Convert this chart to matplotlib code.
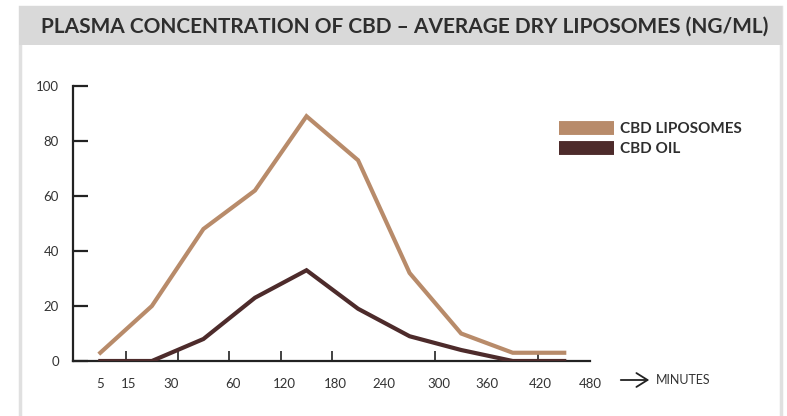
import matplotlib.pyplot as plt
from matplotlib.patches import Rectangle

# Données (ng/ml) aux 10 instants de prélèvement
liposomes = [3, 20, 48, 62, 89, 73, 32, 10, 3, 3]
oil = [0, 0, 8, 23, 33, 19, 9, 4, 0, 0]
minute_labels = ['5', '15', '30', '60', '120', '180', '240', '300', '360', '420', '480']
y_ticks = [0, 20, 40, 60, 80, 100]

lipo_color = '#b88b6a'
oil_color = '#4d2b2b'
axis_color = '#222222'

plt.rcParams['font.family'] = ['Lato', 'DejaVu Sans']

fig = plt.figure(figsize=(7.87, 4.16), dpi=100)

# cadre gris + bandeau du titre
fig.patches.append(Rectangle((20 / 787, -0.05), 761 / 787, 1.05 - 7 / 416, transform=fig.transFigure,
                             facecolor='white', edgecolor='#e0e0e0', lw=2.5, zorder=-2))
fig.patches.append(Rectangle((19 / 787, 1 - 45 / 416), 763 / 787, 39 / 416, transform=fig.transFigure,
                             facecolor='#d9d9d9', edgecolor='none', zorder=-1))
fig.text(405 / 787, 1 - 27 / 416, 'PLASMA CONCENTRATION OF CBD – AVERAGE DRY LIPOSOMES (NG/ML)',
         ha='center', va='center', fontsize=15.0, fontweight='bold', color='#2e2e2e')

ax = fig.add_axes([73 / 787, 55 / 416, 517 / 787, 275 / 416])
ax.set_facecolor('none')
x = list(range(len(liposomes)))
ax.plot(x, liposomes, color=lipo_color, lw=3, solid_joinstyle='miter', label='CBD LIPOSOMES', zorder=3)
ax.plot(x, oil, color=oil_color, lw=3, solid_joinstyle='miter', label='CBD OIL', zorder=4)

ax.set_xlim(-0.53, 9.5)
ax.set_ylim(0, 100)

for s in ['top', 'right']:
    ax.spines[s].set_visible(False)
for s in ['left', 'bottom']:
    ax.spines[s].set_color(axis_color)
    ax.spines[s].set_linewidth(1.6)

ax.set_yticks(y_ticks)
ax.set_yticklabels([str(v) for v in y_ticks])
ax.tick_params(axis='y', direction='in', length=11, width=1.6, color=axis_color,
               labelsize=9.5, labelcolor='#333333', pad=10)

# graduations de l'axe x entre les points, étiquettes placées à part
ax.set_xticks([i + 0.5 for i in range(10)], minor=True)
ax.tick_params(axis='x', which='minor', direction='in', length=7, width=1.2, color=axis_color)
ax.set_xticks([0, 0.55, 1.38, 2.57, 3.57, 4.56, 5.5, 6.56, 7.5, 8.54, 9.5])
ax.set_xticklabels(minute_labels)
ax.tick_params(axis='x', which='major', length=0, labelsize=9.5, labelcolor='#333333', pad=12)

ax.annotate('', xy=(652 / 787, 1 - 380 / 416), xytext=(618 / 787, 1 - 380 / 416),
            xycoords='figure fraction',
            arrowprops=dict(arrowstyle='->,head_length=0.8,head_width=0.5', color=axis_color, lw=1.3))
fig.text(656 / 787, 1 - 380 / 416, 'MINUTES', ha='left', va='center', fontsize=9, color='#333333')

leg = ax.legend(loc='upper left', bbox_to_anchor=(545 / 787, 1 - 108 / 416), bbox_transform=fig.transFigure,
                frameon=False, handlelength=3.6, handleheight=0.9, handletextpad=0.4, labelspacing=0.35,
                prop={'weight': 'bold', 'size': 11})
for h in leg.get_lines():
    h.set_linewidth(10)
    h.set_solid_capstyle('butt')
for t in leg.get_texts():
    t.set_color('#2e2e2e')

fig.savefig('out.png', dpi=100)
